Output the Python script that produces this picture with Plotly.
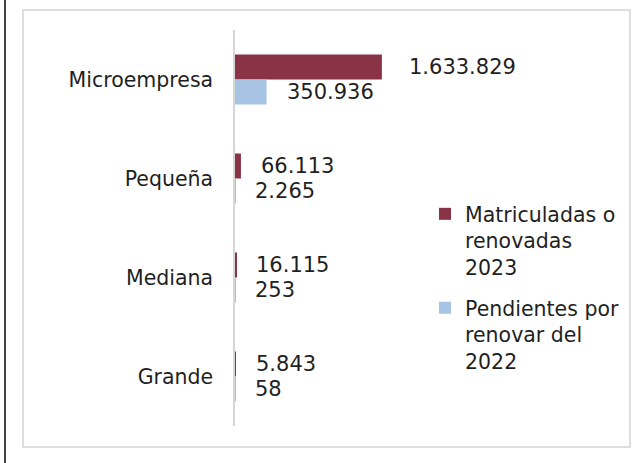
import plotly.graph_objects as go

categories = ["Microempresa", "Pequeña", "Mediana", "Grande"]
matriculadas_2023 = [1633829, 66113, 16115, 5843]
pendientes_2022 = [350936, 2265, 253, 58]
series_names = ["Matriculadas o<br>renovadas<br>2023", "Pendientes por<br>renovar del<br>2022"]
colors = ["#8a3347", "#a7c4e4"]

W, H = 644, 463
L, R, T, B = 235, 44, 30, 37
PW, PH = W - L - R, H - T - B
XMAX = 4.06e6
FONT = "DejaVu Sans"
TXT = "#1f1f1f"


def px_x(p):
    return (p - L) / PW


def px_y(p):
    return 1 - (p - T) / PH


def fmt(v):
    return f"{v:,}".replace(",", ".")


fig = go.Figure()
for i, (name, vals) in enumerate(zip(series_names, [matriculadas_2023, pendientes_2022])):
    fig.add_trace(go.Bar(
        y=categories, x=vals, orientation="h", name=name,
        marker=dict(color=colors[i], line=dict(width=0)),
        legendgroup=f"g{i}", hoverinfo="skip",
    ))

annotations = []
for i, vals in enumerate([matriculadas_2023, pendientes_2022]):
    for c, v in zip(categories, vals):
        shift = 25 if v == max(matriculadas_2023) else 18
        annotations.append(dict(
            x=v, y=c, xref="x", yref="y", text=fmt(v), showarrow=False,
            xanchor="left", yanchor="middle", xshift=shift,
            yshift=12.5 if i == 0 else -12.5,
            font=dict(family=FONT, size=21, color=TXT),
        ))

shapes = [
    dict(type="rect", xref="paper", yref="paper",
         x0=px_x(23), x1=px_x(630), y0=px_y(447), y1=px_y(10),
         line=dict(color="#dedede", width=2), fillcolor="rgba(0,0,0,0)", layer="below"),
    dict(type="line", xref="paper", yref="paper",
         x0=px_x(5), x1=px_x(5), y0=px_y(463), y1=px_y(0),
         line=dict(color="#444444", width=2)),
]

fig.update_layout(
    width=W, height=H,
    margin=dict(l=L, r=R, t=T, b=B, pad=0),
    paper_bgcolor="white", plot_bgcolor="white",
    barmode="group", bargap=0.495, bargroupgap=0,
    font=dict(family=FONT, size=20.5, color=TXT),
    xaxis=dict(visible=False, range=[0, XMAX], showgrid=False, zeroline=False),
    yaxis=dict(autorange="reversed", showline=True, linecolor="#d6d6d6", linewidth=1.5,
               showgrid=False, zeroline=False, ticks="", ticklabelstandoff=16,
               tickfont=dict(family=FONT, size=20.5, color=TXT)),
    legend=dict(x=px_x(425), y=px_y(194), xanchor="left", yanchor="top",
                font=dict(family=FONT, size=20.5, color=TXT), valign="top",
                tracegroupgap=11, bgcolor="rgba(0,0,0,0)", traceorder="grouped"),
    showlegend=True,
    annotations=annotations,
    shapes=shapes,
)

fig.write_html("out.html", config={"displayModeBar": False},
               post_script="document.body.style.margin='0';document.body.style.overflow='hidden';")
